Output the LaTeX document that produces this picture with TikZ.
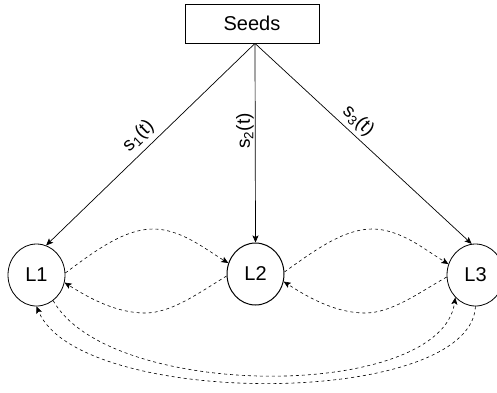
\documentclass[tikz,border=0pt]{standalone}
\usepackage{fontspec}
\setmainfont{Liberation Sans}
\usetikzlibrary{arrows.meta,shapes.geometric}
\begin{document}
\begin{tikzpicture}[x=1pt,y=-1pt,
  seedbox/.style={draw,line width=0.8pt,minimum width=134pt,minimum height=39pt,inner sep=0pt,font=\fontsize{20}{22}\selectfont},
  lnode/.style={draw,ellipse,line width=0.8pt,minimum width=57pt,minimum height=62pt,inner sep=0pt,font=\fontsize{20}{22}\selectfont},
  feed/.style={line width=0.7pt,-{Stealth[length=7pt,width=6pt,inset=1.5pt]}},
  link/.style={line width=0.6pt,dash pattern=on 3pt off 3pt,-{Stealth[length=7pt,width=6pt,inset=1.5pt]}},
  lab/.style={font=\fontsize{19}{21}\selectfont}]
\useasboundingbox (0,0) rectangle (497,392);
\node[seedbox] (Seeds) at (252,23.5) {Seeds};
\coordinate (apex) at ([xshift=3pt]Seeds.south);
\node[lnode] (L1) at (36.5,275) {L1};
\node[lnode,line width=1pt] (L2) at (255.5,274) {L2};
\node[lnode] (L3) at (475.5,275) {L3};
\draw[feed] (apex) -- node[lab,pos=0.51,sloped,above,inner sep=5pt] {s\textsubscript{1}(t)} (L1.72);
\draw[feed] (apex) -- node[lab,pos=0.44,rotate=90,anchor=south,inner sep=1pt] {s\textsubscript{2}(t)} (L2.north);
\draw[feed] (apex) -- node[lab,pos=0.435,sloped,above,inner sep=4pt] {s\textsubscript{3}(t)} (L3.97);
\draw[link] (L1.4) .. controls (96,250) and (125,229) .. (153,229)
  .. controls (181,229) and (205,249) .. (L2.158);
\draw[link] (L2.184) .. controls (200,292) and (172,313) .. (145,313)
  .. controls (118,313) and (92,300) .. (L1.-15);
\draw[link] (L2.4) .. controls (315,250) and (344,229) .. (372,229)
  .. controls (400,229) and (424,249) .. (L3.158);
\draw[link] (L3.184) .. controls (420,292) and (392,313) .. (365,313)
  .. controls (338,313) and (312,300) .. (L2.-15);
\draw[link] (L1.-57) .. controls (110,401) and (441,401) .. (L3.228);
\draw[link] (L3.-90) .. controls (470,408.5) and (79,408.5) .. (L1.-90);
\end{tikzpicture}
\end{document}
